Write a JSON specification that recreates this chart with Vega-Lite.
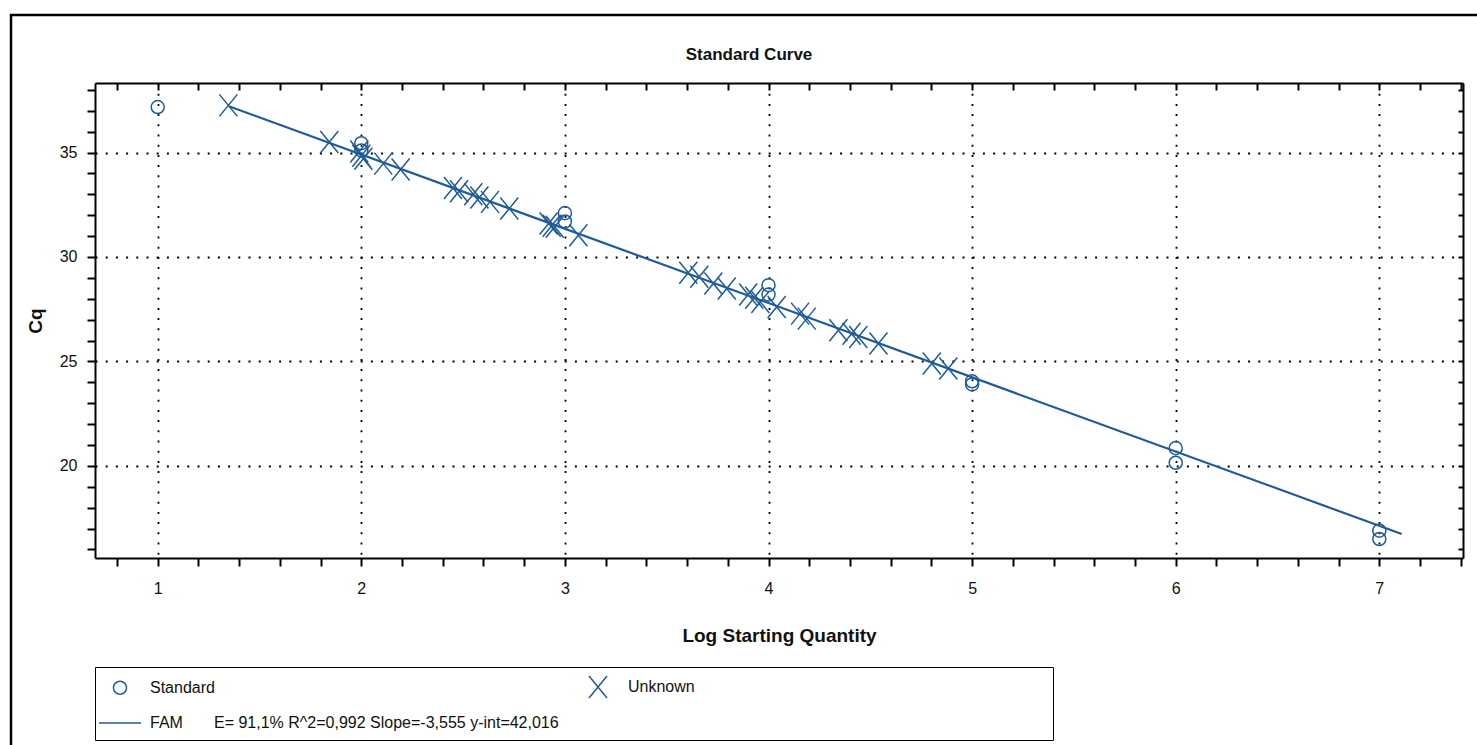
{
  "$schema": "https://vega.github.io/schema/vega-lite/v6.json",
  "autosize": {"type": "none"},
  "padding": {"left": 95, "top": 83, "right": 14, "bottom": 187},
  "width": 1368,
  "height": 475,
  "background": "white",
  "config": {"view": {"stroke": null}, "font": "Liberation Sans"},
  "title": {"text": "Standard Curve", "font": "Liberation Sans", "fontSize": 17, "fontWeight": "bold", "color": "#111", "offset": 0, "dy": 50, "dx": -30, "anchor": "middle", "frame": "group"},
  "datasets": {
    "fit": [
      {"logq": 1.35, "cq": 37.217, "fit": "FAM"},
      {"logq": 7.11, "cq": 16.740, "fit": "FAM"}
    ],
    "pts": [
      {"logq": 1, "cq": 37.18, "type": "Standard"},
      {"logq": 2, "cq": 35.45, "type": "Standard"},
      {"logq": 2, "cq": 35.1, "type": "Standard"},
      {"logq": 3, "cq": 32.1, "type": "Standard"},
      {"logq": 3, "cq": 31.7, "type": "Standard"},
      {"logq": 4, "cq": 28.65, "type": "Standard"},
      {"logq": 4, "cq": 28.2, "type": "Standard"},
      {"logq": 5, "cq": 24.05, "type": "Standard"},
      {"logq": 5, "cq": 23.9, "type": "Standard"},
      {"logq": 6, "cq": 20.85, "type": "Standard"},
      {"logq": 6, "cq": 20.15, "type": "Standard"},
      {"logq": 7, "cq": 16.9, "type": "Standard"},
      {"logq": 7, "cq": 16.5, "type": "Standard"},
      {"logq": 1.347, "cq": 37.26, "type": "Unknown"},
      {"logq": 1.843, "cq": 35.51, "type": "Unknown"},
      {"logq": 1.99, "cq": 35.05, "type": "Unknown"},
      {"logq": 2.0, "cq": 34.85, "type": "Unknown"},
      {"logq": 2.01, "cq": 34.7, "type": "Unknown"},
      {"logq": 2.108, "cq": 34.47, "type": "Unknown"},
      {"logq": 2.193, "cq": 34.19, "type": "Unknown"},
      {"logq": 2.45, "cq": 33.3, "type": "Unknown"},
      {"logq": 2.48, "cq": 33.15, "type": "Unknown"},
      {"logq": 2.55, "cq": 33.0, "type": "Unknown"},
      {"logq": 2.58, "cq": 32.85, "type": "Unknown"},
      {"logq": 2.632, "cq": 32.64, "type": "Unknown"},
      {"logq": 2.727, "cq": 32.32, "type": "Unknown"},
      {"logq": 2.92, "cq": 31.6, "type": "Unknown"},
      {"logq": 2.935, "cq": 31.5, "type": "Unknown"},
      {"logq": 2.95, "cq": 31.45, "type": "Unknown"},
      {"logq": 3.066, "cq": 31.04, "type": "Unknown"},
      {"logq": 3.606, "cq": 29.25, "type": "Unknown"},
      {"logq": 3.66, "cq": 29.05, "type": "Unknown"},
      {"logq": 3.729, "cq": 28.73, "type": "Unknown"},
      {"logq": 3.795, "cq": 28.49, "type": "Unknown"},
      {"logq": 3.9, "cq": 28.2, "type": "Unknown"},
      {"logq": 3.93, "cq": 28.05, "type": "Unknown"},
      {"logq": 3.96, "cq": 27.85, "type": "Unknown"},
      {"logq": 4.04, "cq": 27.61, "type": "Unknown"},
      {"logq": 4.155, "cq": 27.29, "type": "Unknown"},
      {"logq": 4.188, "cq": 27.05, "type": "Unknown"},
      {"logq": 4.343, "cq": 26.49, "type": "Unknown"},
      {"logq": 4.408, "cq": 26.33, "type": "Unknown"},
      {"logq": 4.441, "cq": 26.17, "type": "Unknown"},
      {"logq": 4.54, "cq": 25.86, "type": "Unknown"},
      {"logq": 4.802, "cq": 24.9, "type": "Unknown"},
      {"logq": 4.883, "cq": 24.66, "type": "Unknown"}
    ]
  },
  "layer": [
    {
      "data": {"name": "fit"},
      "mark": {"type": "line", "strokeWidth": 2.2},
      "encoding": {
        "x": {
          "field": "logq", "type": "quantitative",
          "scale": {"domain": [0.692, 7.411], "nice": false, "zero": false},
          "axis": {
            "orient": "top", "title": null, "labels": false, "grid": false,
            "values": [0.8,1,1.2,1.4,1.6,1.8,2,2.2,2.4,2.6,2.8,3,3.2,3.4,3.6,3.8,4,4.2,4.4,4.6,4.8,5,5.2,5.4,5.6,5.8,6,6.2,6.4,6.6,6.8,7,7.2,7.4],
            "tickSize": -7, "tickColor": "#000", "tickWidth": 2,
            "domainColor": "#000", "domainWidth": 2
          }
        },
        "y": {
          "field": "cq", "type": "quantitative",
          "scale": {"domain": [15.59, 38.33], "nice": false, "zero": false},
          "axis": {
            "orient": "right", "title": null, "labels": false, "grid": false,
            "values": [16,17,18,19,20,21,22,23,24,25,26,27,28,29,30,31,32,33,34,35,36,37,38],
            "tickSize": -5, "tickColor": "#000", "tickWidth": 2,
            "domainColor": "#000", "domainWidth": 2,
            "encode": {"ticks": {"x2": {"value": {"expr": "datum.value % 5 === 0 ? -8 : -5"}}}}
          }
        },
        "color": {
          "field": "fit", "type": "nominal",
          "scale": {"range": ["#1f5b99"]},
          "legend": {"orient": "none", "legendX": -84, "legendY": -68, "padding": 2000, "strokeColor": "#000", "title": null,
            "labelExpr": "''", "symbolOpacity": 0,
            "encode": {"legend": {"strokeWidth": {"value": 2.5}, "update": {"strokeWidth": {"value": 2.5}}}}}
        }
      }
    },
    {
      "data": {"name": "pts"},
      "mark": {"type": "point", "filled": false, "strokeWidth": 1.5, "color": "#1f5b99", "opacity": 1},
      "encoding": {
        "x": {
          "field": "logq", "type": "quantitative",
          "scale": {"domain": [0.692, 7.411], "nice": false, "zero": false},
          "axis": {
            "orient": "bottom", "title": "Log Starting Quantity",
            "values": [0.8,1,1.2,1.4,1.6,1.8,2,2.2,2.4,2.6,2.8,3,3.2,3.4,3.6,3.8,4,4.2,4.4,4.6,4.8,5,5.2,5.4,5.6,5.8,6,6.2,6.4,6.6,6.8,7,7.2,7.4],
            "labelExpr": "abs(datum.value - round(datum.value)) < 0.01 ? format(datum.value, 'd') : ''",
            "labelFont": "Liberation Sans", "labelFontSize": 16, "labelColor": "#111", "labelPadding": 14,
            "titleFont": "Liberation Sans", "titleFontSize": 19, "titleFontWeight": "bold", "titleColor": "#111", "titlePadding": 30,
            "tickSize": 8, "tickColor": "#000", "tickWidth": 2,
            "domainColor": "#000", "domainWidth": 2,
            "grid": true, "gridColor": "#000", "gridWidth": 1.8, "gridDash": [2, 8.2],
            "gridOpacity": {"condition": {"test": "abs(datum.value - round(datum.value)) < 0.01", "value": 1}, "value": 0},
            "encode": {
              "ticks": {
                "y": {"value": {"expr": "abs(datum.value - round(datum.value)) < 0.01 ? -11 : -6"}},
                "y2": {"value": {"expr": "abs(datum.value - round(datum.value)) < 0.01 ? 11 : 7"}}
              }
            }
          }
        },
        "y": {
          "field": "cq", "type": "quantitative",
          "scale": {"domain": [15.59, 38.33], "nice": false, "zero": false},
          "axis": {
            "orient": "left", "title": "Cq",
            "values": [16,17,18,19,20,21,22,23,24,25,26,27,28,29,30,31,32,33,34,35,36,37,38],
            "labelExpr": "datum.value % 5 === 0 ? datum.label : ''",
            "labelFont": "Liberation Sans", "labelFontSize": 16, "labelColor": "#111", "labelPadding": 10,
            "titleFont": "Liberation Sans", "titleFontSize": 19, "titleFontWeight": "bold", "titleColor": "#111", "titlePadding": 14,
            "tickSize": 8, "tickColor": "#000", "tickWidth": 2,
            "domainColor": "#000", "domainWidth": 2,
            "grid": true, "gridColor": "#000", "gridWidth": 1.8, "gridDash": [2, 8.2],
            "gridOpacity": {"condition": {"test": "datum.value % 5 === 0", "value": 1}, "value": 0},
            "encode": {
              "ticks": {
                "x": {"value": {"expr": "datum.value % 5 === 0 ? 8 : 4"}},
                "x2": {"value": {"expr": "datum.value % 5 === 0 ? -8 : -4"}}
              }
            }
          }
        },
        "shape": {
          "field": "type", "type": "nominal",
          "scale": {
            "domain": ["Standard", "Unknown", "FAM\u00a0\u00a0\u00a0\u00a0\u00a0\u00a0\u00a0E= 91,1% R^2=0,992 Slope=-3,555 y-int=42,016"],
            "range": ["circle", "M-0.9,-1.1L0.9,1.1M0.9,-1.1L-0.9,1.1", "stroke"]
          },
          "legend": {
            "orient": "none", "legendX": 0, "legendY": 584,
            "direction": "horizontal", "columns": 2, "columnPadding": 23, "rowPadding": -3,
            "padding": 9, "symbolOffset": -6, "symbolStrokeWidth": 1.5,
            "labelOffset": 8, "labelFont": "Liberation Sans", "labelFontSize": 16, "labelColor": "#111", "labelLimit": 800,
            "strokeColor": "#000",
            "title": "\u00a0", "titleOrient": "right", "titlePadding": 349, "titleFontSize": 2,
            "encode": {
              "legend": {"strokeWidth": {"value": 2}, "update": {"strokeWidth": {"value": 2}}}
            }
          }
        },
        "size": {
          "field": "type", "type": "nominal",
          "scale": {
            "type": "ordinal",
            "domain": ["Standard", "Unknown", "FAM\u00a0\u00a0\u00a0\u00a0\u00a0\u00a0\u00a0E= 91,1% R^2=0,992 Slope=-3,555 y-int=42,016"],
            "range": [170, 400, 1764]
          },
          "legend": {
            "orient": "none", "legendX": 0, "legendY": 584,
            "direction": "horizontal", "columns": 2, "columnPadding": 23, "rowPadding": -3,
            "padding": 9, "symbolOffset": -6, "symbolStrokeWidth": 1.5,
            "labelOffset": 8, "labelFont": "Liberation Sans", "labelFontSize": 16, "labelColor": "#111", "labelLimit": 800,
            "strokeColor": "#000",
            "title": "\u00a0", "titleOrient": "right", "titlePadding": 349, "titleFontSize": 2
          }
        }
      }
    }
  ],
  "resolve": {"axis": {"x": "independent", "y": "independent"}}
}
